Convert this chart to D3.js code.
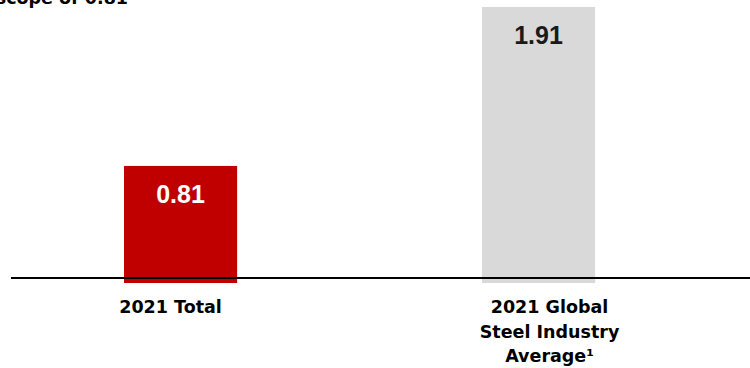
<!DOCTYPE html>
<html>
<head>
<meta charset="utf-8">
<script src="https://cdn.jsdelivr.net/npm/d3@7"></script>
<style>
  html, body { margin: 0; padding: 0; background: #ffffff; }
  svg { display: block; }
</style>
</head>
<body>
<svg id="chart" width="750" height="368"></svg>
<script>
// Emissions intensity, 2021
const categories = ["total", "industry"];
const values = [0.81, 1.91];
const valueLabels = ["0.81", "1.91"];
const categoryLabels = [["2021 Total"], ["2021 Global", "Steel Industry", "Average\u00B9"]];
const barColors = ["#c00000", "#d9d9d9"];
const valueColors = ["#ffffff", "#1a1a1a"];
const headerText = "scope of 0.81";

const svg = d3.select("#chart");
const W = 750, H = 368;

const x = d3.scaleBand()
  .domain(categories)
  .range([16.6, 702.5])
  .paddingInner(0.684)
  .paddingOuter(0.3);

const y = d3.scaleLinear()
  .domain([0, 1.91])
  .range([283, 7]);

// heading running off the top edge
svg.append("text")
  .attr("x", 128)
  .attr("y", 3.5)
  .attr("text-anchor", "end")
  .attr("font-family", "DejaVu Sans, sans-serif")
  .attr("font-weight", "bold")
  .attr("font-size", 17.5)
  .attr("fill", "#000")
  .text(headerText);

// bars
svg.selectAll("rect.bar")
  .data(categories)
  .join("rect")
  .attr("class", "bar")
  .attr("x", d => x(d))
  .attr("width", x.bandwidth())
  .attr("y", (d, i) => y(values[i]))
  .attr("height", (d, i) => y(0) - y(values[i]))
  .attr("fill", (d, i) => barColors[i]);

// baseline rule
svg.append("line")
  .attr("x1", 11).attr("x2", W)
  .attr("y1", 278).attr("y2", 278)
  .attr("stroke", "#000")
  .attr("stroke-width", 2);

// value labels inside the bars
svg.selectAll("text.value")
  .data(categories)
  .join("text")
  .attr("class", "value")
  .attr("x", d => x(d) + x.bandwidth() / 2)
  .attr("y", (d, i) => y(values[i]) + 37)
  .attr("text-anchor", "middle")
  .attr("font-family", "Liberation Sans, Arial, sans-serif")
  .attr("font-weight", "bold")
  .attr("font-size", 25)
  .attr("fill", (d, i) => valueColors[i])
  .text((d, i) => valueLabels[i]);

// category labels under the axis
const labelShift = { total: -10, industry: 11 };
const cat = svg.selectAll("text.cat")
  .data(categories)
  .join("text")
  .attr("class", "cat")
  .attr("x", d => x(d) + x.bandwidth() / 2 + labelShift[d])
  .attr("y", 313)
  .attr("text-anchor", "middle")
  .attr("font-family", "DejaVu Sans, sans-serif")
  .attr("font-weight", "bold")
  .attr("font-size", 17.5)
  .attr("fill", "#000");

cat.each(function(d, i) {
  const t = d3.select(this);
  const cx = x(d) + x.bandwidth() / 2 + labelShift[d];
  categoryLabels[i].forEach((line, j) => {
    t.append("tspan")
      .attr("x", cx)
      .attr("dy", j === 0 ? 0 : 24.5)
      .text(line);
  });
});
</script>
</body>
</html>
